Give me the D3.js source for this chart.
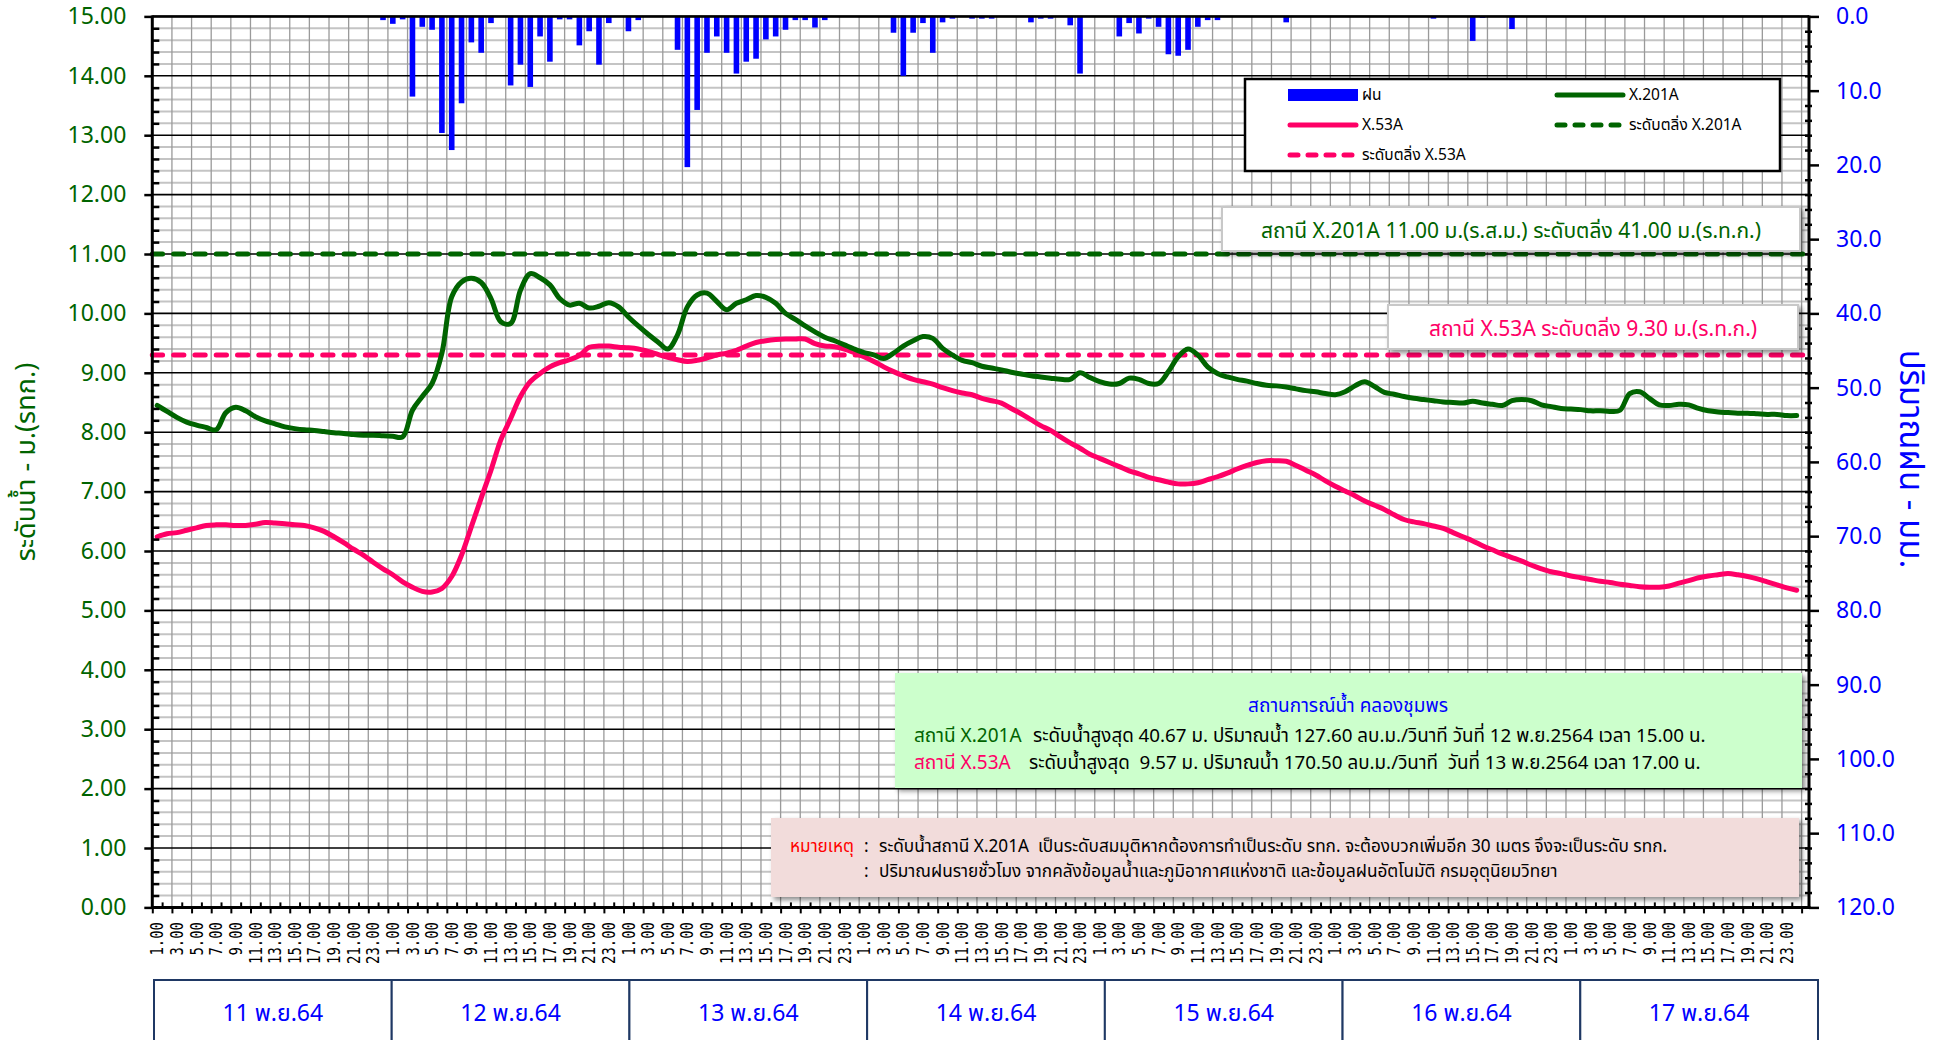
<!DOCTYPE html>
<html>
<head>
<meta charset="utf-8">
<script src="https://cdn.jsdelivr.net/npm/d3@7"></script>
<style>
  body { margin: 0; background: #fff; }
  text { font-family: Tahoma, "Noto Sans Thai", "Noto Sans", sans-serif; }
</style>
</head>
<body>
<svg id="chart"></svg>
<script>
// ---- data ----
const days = ["11 พ.ย.64", "12 พ.ย.64", "13 พ.ย.64", "14 พ.ย.64", "15 พ.ย.64", "16 พ.ย.64", "17 พ.ย.64"];
const hourLabels = ["1.00","2.00","3.00","4.00","5.00","6.00","7.00","8.00","9.00","10.00","11.00","12.00",
                    "13.00","14.00","15.00","16.00","17.00","18.00","19.00","20.00","21.00","22.00","23.00","24.00"];
const levelTicks = [0,1,2,3,4,5,6,7,8,9,10,11,12,13,14,15];
const rainTicks = [0,10,20,30,40,50,60,70,80,90,100,110,120];

// water level X.201A (m), hourly 11-17 Nov
const x201A = [
  8.45,8.35,8.25,8.17,8.12,8.08,8.04,8.33,8.42,8.36,8.26,8.19,8.14,8.09,8.06,8.04,8.03,8.01,7.99,7.98,7.96,7.95,7.95,7.94,
  7.93,7.92,8.37,8.60,8.82,9.33,10.28,10.53,10.59,10.52,10.25,9.86,9.83,10.39,10.67,10.60,10.48,10.25,10.14,10.17,10.09,10.12,10.18,10.11,
  9.94,9.79,9.65,9.52,9.40,9.64,10.11,10.31,10.34,10.20,10.06,10.17,10.23,10.30,10.27,10.17,10.00,9.90,9.79,9.69,9.60,9.54,9.47,9.40,
  9.34,9.30,9.24,9.33,9.45,9.54,9.61,9.58,9.41,9.30,9.21,9.17,9.11,9.08,9.05,9.01,8.98,8.95,8.93,8.91,8.89,8.89,9.00,8.92,
  8.85,8.81,8.82,8.91,8.89,8.82,8.82,9.02,9.27,9.40,9.30,9.10,8.99,8.93,8.89,8.86,8.82,8.79,8.78,8.76,8.73,8.70,8.68,8.65,
  8.63,8.68,8.78,8.85,8.77,8.67,8.64,8.60,8.57,8.55,8.53,8.51,8.50,8.49,8.52,8.49,8.47,8.45,8.53,8.55,8.53,8.46,8.43,8.40,
  8.39,8.38,8.36,8.36,8.35,8.37,8.65,8.68,8.57,8.46,8.45,8.47,8.46,8.40,8.36,8.34,8.33,8.32,8.32,8.31,8.30,8.30,8.28,8.28
];
// water level X.53A (m)
const x53A = [
  6.24,6.29,6.31,6.35,6.39,6.43,6.44,6.44,6.43,6.43,6.45,6.48,6.47,6.46,6.44,6.43,6.39,6.33,6.24,6.14,6.03,5.93,5.81,5.70,
  5.60,5.48,5.39,5.32,5.31,5.37,5.57,5.93,6.41,6.89,7.36,7.87,8.23,8.60,8.85,8.99,9.10,9.17,9.22,9.29,9.43,9.45,9.45,9.43,
  9.42,9.40,9.36,9.31,9.26,9.22,9.19,9.21,9.25,9.30,9.33,9.38,9.45,9.51,9.54,9.56,9.57,9.57,9.57,9.49,9.45,9.44,9.40,9.34,
  9.27,9.19,9.10,9.02,8.95,8.89,8.85,8.81,8.75,8.70,8.66,8.63,8.57,8.53,8.49,8.40,8.31,8.21,8.11,8.03,7.92,7.82,7.73,7.63,
  7.56,7.49,7.42,7.35,7.30,7.24,7.20,7.16,7.13,7.13,7.15,7.20,7.25,7.31,7.38,7.44,7.49,7.52,7.52,7.51,7.44,7.36,7.28,7.18,
  7.09,7.01,6.93,6.84,6.77,6.70,6.61,6.53,6.49,6.46,6.42,6.38,6.31,6.24,6.17,6.09,6.02,5.95,5.89,5.83,5.76,5.70,5.65,5.62,
  5.58,5.55,5.52,5.49,5.47,5.44,5.42,5.40,5.39,5.39,5.41,5.46,5.50,5.55,5.58,5.60,5.62,5.60,5.57,5.53,5.48,5.43,5.38,5.34
];
// hourly rain (mm)
const rain = [
  0,0,0,0,0,0,0,0,0,0,0,0,0,0,0,0,0,0,0,0,0,0,0,0.5,
  1.0,0.4,10.8,1.4,1.8,15.7,18.0,11.7,3.5,4.9,0.9,0,9.3,6.5,9.5,2.7,6.1,0.4,0.4,3.9,2.0,6.5,0.9,0,
  2.0,0.5,0,0,0,4.5,20.3,12.6,4.9,2.7,4.9,7.7,6.1,5.7,3.1,2.7,1.8,0.5,0.5,1.5,0.5,0,0,0,
  0,0,0,2.2,8.0,2.2,0.9,4.9,0.8,0.3,0,0.3,0.3,0.3,0,0,0,0.8,0.3,0.3,0,1.2,7.7,0,
  0,0,2.7,0.9,2.3,0.3,1.4,5.1,5.3,4.5,1.4,0.5,0.5,0,0,0,0,0,0,0.8,0,0,0,0,
  0,0,0,0,0,0,0,0,0,0,0.3,0,0,0,3.3,0.2,0,0,1.7,0,0,0,0,0,
  0,0,0,0,0,0,0,0,0,0,0,0,0,0,0,0,0,0,0,0,0,0,0,0
];
const bank201A = 11.00;
const bank53A = 9.30;

// ---- drawing ----
const W = 1953, H = 1040;
const green = "#006400", pink = "#ff0066", blue = "#0000ff";
const m = {left: 152.3, right: 1809, top: 16.4, bottom: 907.4};

const svg = d3.select("#chart").attr("width", W).attr("height", H);
const defs = svg.append("defs");
defs.append("filter").attr("id", "sh").attr("x", "-5%").attr("y", "-20%").attr("width", "115%").attr("height", "150%")
  .append("feDropShadow").attr("dx", 3).attr("dy", 3).attr("stdDeviation", 2.5)
  .attr("flood-color", "#000").attr("flood-opacity", 0.45);

const x = d3.scaleLinear().domain([0, 168]).range([152.3, 1801.6]);
const y = d3.scaleLinear().domain([0, 15]).range([m.bottom, m.top]);
const yr = d3.scaleLinear().domain([0, 120]).range([m.top, m.bottom]);

// grid
const minorY = d3.range(75).filter(i => i % 5).map(i => i / 5);
const grid = svg.append("g");
grid.selectAll(".hm").data(minorY).join("line").attr("class", "hm")
  .attr("x1", m.left).attr("x2", m.right).attr("y1", d => y(d)).attr("y2", d => y(d))
  .attr("stroke", "#c4c4c4").attr("stroke-width", 2);
grid.selectAll(".vg").data(d3.range(0, 169, 2)).join("line").attr("class", "vg")
  .attr("x1", d => x(d)).attr("x2", d => x(d)).attr("y1", m.top).attr("y2", m.bottom)
  .attr("stroke", "#9a9a9a").attr("stroke-width", 1.3);
grid.selectAll(".hM").data(levelTicks).join("line").attr("class", "hM")
  .attr("x1", m.left).attr("x2", m.right).attr("y1", d => y(d)).attr("y2", d => y(d))
  .attr("stroke", "#000").attr("stroke-width", 1.6);

// rain bars hanging from the top
svg.append("g").selectAll("rect")
  .data(rain.map((r, i) => ({i, r})).filter(d => d.r > 0))
  .join("rect")
  .attr("x", d => x(d.i + 0.5) - 2.8).attr("width", 5.6)
  .attr("y", yr(0)).attr("height", d => yr(d.r) - yr(0))
  .attr("fill", blue);

// bank levels
function dashed(v, col) {
  svg.append("line").attr("x1", m.left).attr("x2", m.right).attr("y1", y(v)).attr("y2", y(v))
    .attr("stroke", col).attr("stroke-width", 5).attr("stroke-linecap", "round")
    .attr("stroke-dasharray", "10.3,11");
}
dashed(bank201A, green);
dashed(bank53A, pink);

// level lines
const line = d3.line().x((d, i) => x(i + 0.5)).y(d => y(d)).curve(d3.curveCatmullRom.alpha(0.5));
svg.append("path").datum(x53A).attr("d", line).attr("fill", "none")
  .attr("stroke", pink).attr("stroke-width", 5).attr("stroke-linecap", "round").attr("stroke-linejoin", "round");
svg.append("path").datum(x201A).attr("d", line).attr("fill", "none")
  .attr("stroke", green).attr("stroke-width", 5).attr("stroke-linecap", "round").attr("stroke-linejoin", "round");

// left axis
const axL = svg.append("g").attr("transform", `translate(${m.left},0)`)
  .call(d3.axisLeft(y).tickValues(levelTicks).tickFormat(d3.format(".2f")).tickSize(8).tickPadding(18));
axL.select(".domain").remove();
axL.selectAll("line").attr("stroke", "#000").attr("stroke-width", 2.5);
axL.selectAll("text").attr("fill", green).style("font-size", "23px");
const axLm = svg.append("g").attr("transform", `translate(${m.left},0)`)
  .call(d3.axisRight(y).tickValues(minorY).tickFormat("").tickSize(7));
axLm.select(".domain").remove();
axLm.selectAll("line").attr("stroke", "#000").attr("stroke-width", 2.5);

// right axis (rain)
const axR = svg.append("g").attr("transform", `translate(${m.right},0)`)
  .call(d3.axisRight(yr).tickValues(rainTicks).tickFormat(d3.format(".1f")).tickSize(10).tickPadding(17));
axR.select(".domain").remove();
axR.selectAll("line").attr("stroke", "#000").attr("stroke-width", 2.5);
axR.selectAll("text").attr("fill", blue).style("font-size", "23px");
const minorR = d3.range(0, 121, 2).filter(v => v % 10);
const axRm = svg.append("g").attr("transform", `translate(${m.right + 3},0)`)
  .call(d3.axisLeft(yr).tickValues(minorR).tickFormat("").tickSize(7));
axRm.select(".domain").remove();
axRm.selectAll("line").attr("stroke", "#000").attr("stroke-width", 2.5);

// bottom axis
const axB = svg.append("g").attr("transform", `translate(0,${m.bottom})`)
  .call(d3.axisBottom(x).tickValues(d3.range(0, 169, 2)).tickFormat("").tickSize(6));
axB.select(".domain").remove();
axB.selectAll("line").attr("stroke", "#000").attr("stroke-width", 2);
const axBm = svg.append("g").attr("transform", `translate(0,${m.bottom})`)
  .call(d3.axisTop(x).tickValues(d3.range(1, 168, 2)).tickFormat("").tickSize(5));
axBm.select(".domain").remove();
axBm.selectAll("line").attr("stroke", "#000").attr("stroke-width", 2);

svg.append("g").selectAll("text").data(d3.range(0, 168, 2)).join("text")
  .attr("transform", k => `translate(${x(k + 0.5)},922) rotate(-90) scale(0.82,1)`)
  .attr("text-anchor", "end").attr("dy", "0.36em")
  .style("font-family", "'DejaVu Sans Mono', monospace").style("font-size", "17px")
  .text(k => hourLabels[k % 24]);

// plot frame
svg.append("line").attr("x1", m.left).attr("x2", m.right).attr("y1", m.top).attr("y2", m.top).attr("stroke", "#000").attr("stroke-width", 2.5);
svg.append("line").attr("x1", m.left).attr("x2", m.right + 1.5).attr("y1", m.bottom).attr("y2", m.bottom).attr("stroke", "#000").attr("stroke-width", 3);
svg.append("line").attr("x1", m.left).attr("x2", m.left).attr("y1", m.top - 1).attr("y2", m.bottom + 1.5).attr("stroke", "#000").attr("stroke-width", 3);
svg.append("line").attr("x1", m.right).attr("x2", m.right).attr("y1", m.top - 1).attr("y2", m.bottom + 1.5).attr("stroke", "#000").attr("stroke-width", 3);

// axis titles
svg.append("text").attr("transform", "translate(26,462) rotate(-90)").attr("text-anchor", "middle")
  .attr("dy", "0.35em").attr("fill", green).style("font-size", "27px").text("ระดับน้ำ - ม.(รทก.)");
svg.append("text").attr("transform", "translate(1912,459) rotate(90)").attr("text-anchor", "middle")
  .attr("dy", "0.35em").attr("fill", blue).style("font-size", "33px").text("ปริมาณฝน - มม.");

// legend
const lg = svg.append("g");
lg.append("rect").attr("x", 1245).attr("y", 79).attr("width", 535).attr("height", 92)
  .attr("fill", "#fff").attr("stroke", "#000").attr("stroke-width", 2.5);
const legendItems = [
  {label: "ฝน", type: "bar", col: blue, lx: 1288, ly: 95},
  {label: "X.201A", type: "line", col: green, lx: 1555, ly: 95},
  {label: "X.53A", type: "line", col: pink, lx: 1288, ly: 125},
  {label: "ระดับตลิ่ง X.201A", type: "dash", col: green, lx: 1555, ly: 125},
  {label: "ระดับตลิ่ง X.53A", type: "dash", col: pink, lx: 1288, ly: 155}
];
legendItems.forEach(d => {
  if (d.type === "bar") {
    lg.append("rect").attr("x", d.lx).attr("y", d.ly - 6).attr("width", 70).attr("height", 12).attr("fill", d.col);
  } else {
    lg.append("line").attr("x1", d.lx + 2).attr("x2", d.lx + 68).attr("y1", d.ly).attr("y2", d.ly)
      .attr("stroke", d.col).attr("stroke-width", 5).attr("stroke-linecap", "round")
      .attr("stroke-dasharray", d.type === "dash" ? "8,10" : null);
  }
  lg.append("text").attr("x", d.lx + 74).attr("y", d.ly).attr("dy", "0.35em")
    .style("font-size", "15.5px").attr("fill", "#000").text(d.label);
});

// bank level notes
function note(x0, y0, w, h, txt, col) {
  svg.append("rect").attr("x", x0).attr("y", y0).attr("width", w).attr("height", h)
    .attr("fill", "#fff").attr("stroke", "#c8c8c8").attr("stroke-width", 2).attr("filter", "url(#sh)");
  svg.append("text").attr("x", x0 + w / 2).attr("y", y0 + h / 2 + 2).attr("dy", "0.35em").attr("text-anchor", "middle")
    .attr("fill", col).style("font-size", "21px").text(txt);
}
note(1222, 207, 578, 44, "สถานี X.201A 11.00 ม.(ร.ส.ม.) ระดับตลิ่ง 41.00 ม.(ร.ท.ก.)", green);
note(1388, 305, 410, 44, "สถานี X.53A ระดับตลิ่ง 9.30 ม.(ร.ท.ก.)", pink);

// summary box
const sb = svg.append("g");
sb.append("rect").attr("x", 895).attr("y", 673).attr("width", 907).attr("height", 115)
  .attr("fill", "#ccffcc").attr("filter", "url(#sh)");
sb.append("text").attr("x", 1348).attr("y", 705).attr("dy", "0.35em").attr("text-anchor", "middle")
  .attr("fill", blue).style("font-size", "19px").text("สถานการณ์น้ำ คลองชุมพร");
const summary = [
  {st: "สถานี X.201A", col: green, tx: 1033, ty: 735,
   txt: "ระดับน้ำสูงสุด 40.67 ม. ปริมาณน้ำ 127.60 ลบ.ม./วินาที วันที่ 12 พ.ย.2564 เวลา 15.00 น."},
  {st: "สถานี X.53A", col: pink, tx: 1029, ty: 762,
   txt: "ระดับน้ำสูงสุด  9.57 ม. ปริมาณน้ำ 170.50 ลบ.ม./วินาที  วันที่ 13 พ.ย.2564 เวลา 17.00 น."}
];
summary.forEach(d => {
  sb.append("text").attr("x", 914).attr("y", d.ty).attr("dy", "0.35em").attr("fill", d.col)
    .style("font-size", "19px").text(d.st);
  sb.append("text").attr("x", d.tx).attr("y", d.ty).attr("dy", "0.35em").attr("fill", "#000")
    .style("font-size", "18.8px").style("white-space", "pre").text(d.txt);
});

// remark box
const rb = svg.append("g");
rb.append("rect").attr("x", 771).attr("y", 818).attr("width", 1028).attr("height", 79)
  .attr("fill", "#f2dcdb").attr("filter", "url(#sh)");
rb.append("text").attr("x", 790).attr("y", 846).attr("dy", "0.35em").attr("fill", "#ff0000")
  .style("font-size", "17.2px").text("หมายเหตุ");
[846, 871].forEach(ty => rb.append("text").attr("x", 864).attr("y", ty).attr("dy", "0.35em")
  .style("font-size", "17.2px").text(":"));
rb.append("text").attr("x", 879).attr("y", 846).attr("dy", "0.35em").style("font-size", "17.2px").style("white-space", "pre")
  .text("ระดับน้ำสถานี X.201A  เป็นระดับสมมุติหากต้องการทำเป็นระดับ รทก. จะต้องบวกเพิ่มอีก 30 เมตร จึงจะเป็นระดับ รทก.");
rb.append("text").attr("x", 879).attr("y", 871).attr("dy", "0.35em").style("font-size", "17.2px")
  .text("ปริมาณฝนรายชั่วโมง จากคลังข้อมูลน้ำและภูมิอากาศแห่งชาติ และข้อมูลฝนอัตโนมัติ กรมอุตุนิยมวิทยา");

// date boxes
const xd = d3.scaleBand().domain(days).range([154, 1818]);
const db = svg.append("g");
db.selectAll("rect").data(days).join("rect")
  .attr("x", d => xd(d)).attr("y", 980).attr("width", xd.bandwidth()).attr("height", 80)
  .attr("fill", "#fff").attr("stroke", "#1f3864").attr("stroke-width", 2);
db.selectAll("text").data(days).join("text")
  .attr("x", d => xd(d) + xd.bandwidth() / 2).attr("y", 1013).attr("dy", "0.35em").attr("text-anchor", "middle")
  .attr("fill", blue).style("font-size", "23px").text(d => d);
</script>
</body>
</html>
